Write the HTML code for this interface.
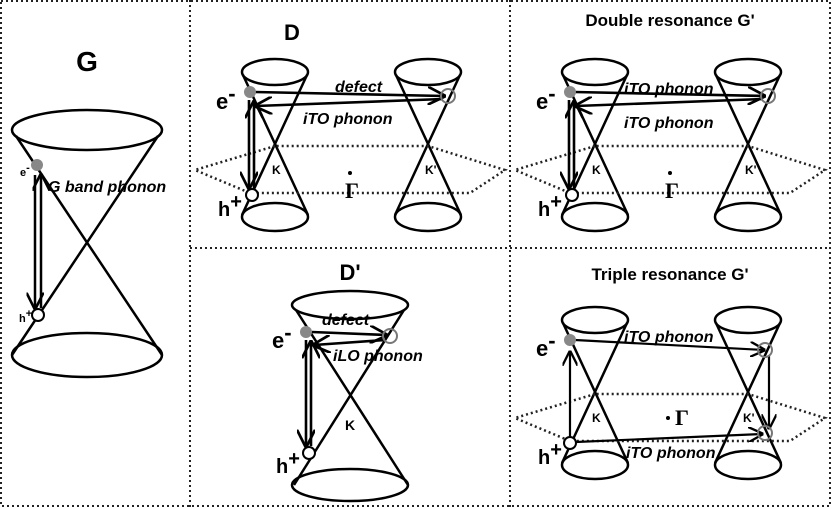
<!DOCTYPE html>
<html><head><style>body{margin:0;background:#fff}svg{display:block}</style></head><body>
<svg width="831" height="507" viewBox="0 0 831 507" xmlns="http://www.w3.org/2000/svg" font-family="Liberation Sans, sans-serif" font-weight="bold">
<defs>
<marker id="a" viewBox="0 0 10 10" refX="9" refY="5" markerWidth="7" markerHeight="7" orient="auto-start-reverse"><path d="M0,0 L10,5 L0,10" fill="none" stroke="#000" stroke-width="1.5"/></marker>
</defs>
<g fill="none" stroke="#222" stroke-width="2" stroke-dasharray="2,3">
<rect x="1" y="1" width="829" height="505"/>
<line x1="190" y1="0" x2="190" y2="507"/>
<line x1="510" y1="0" x2="510" y2="507"/>
<line x1="190" y1="248" x2="831" y2="248"/>
</g>
<!-- G panel -->
<text x="87" y="71" font-size="28" text-anchor="middle">G</text>
<g fill="none" stroke="#000" stroke-width="2.5">
<ellipse cx="87" cy="130" rx="75" ry="20"/>
<ellipse cx="87" cy="355" rx="75" ry="22"/>
<line x1="16" y1="136" x2="162" y2="355"/>
<line x1="158" y1="136" x2="12" y2="355"/>
<line x1="35" y1="175" x2="35" y2="308" marker-end="url(#a)"/>
<line x1="41" y1="308" x2="41" y2="175" marker-end="url(#a)"/>
</g>
<circle cx="37" cy="165" r="6" fill="#888"/>
<circle cx="38" cy="315" r="6" fill="#fff" stroke="#000" stroke-width="2"/>
<text x="20" y="176" font-size="11">e<tspan dy="-5">-</tspan></text>
<text x="19" y="322" font-size="11">h<tspan dy="-5">+</tspan></text>
<text x="48" y="192" font-size="16" font-style="italic">G  band phonon</text>
<!-- D panel and Double resonance -->
<g id="dp">
<g fill="none" stroke="#000" stroke-width="2.5">
<ellipse cx="275" cy="72" rx="33" ry="13"/>
<ellipse cx="275" cy="217" rx="33" ry="14"/>
<line x1="243" y1="75" x2="308" y2="215"/>
<line x1="307" y1="75" x2="242" y2="215"/>
<ellipse cx="428" cy="72" rx="33" ry="13"/>
<ellipse cx="428" cy="217" rx="33" ry="14"/>
<line x1="396" y1="75" x2="461" y2="215"/>
<line x1="460" y1="75" x2="395" y2="215"/>
</g>
<polyline points="275,146 195,170 250,193 470,193 505,170 428,146 275,146" fill="none" stroke="#222" stroke-width="2.5" stroke-dasharray="2,3"/>
<g fill="none" stroke="#000" stroke-width="2.6">
<line x1="249" y1="100" x2="249" y2="188" marker-end="url(#a)"/>
<line x1="254" y1="188" x2="254" y2="102" marker-end="url(#a)"/>
<line x1="255" y1="92" x2="444" y2="96" marker-end="url(#a)"/>
<line x1="443" y1="99" x2="256" y2="106" marker-end="url(#a)"/>
</g>
<circle cx="250" cy="92" r="6" fill="#888"/>
<circle cx="448" cy="96" r="7" fill="none" stroke="#777" stroke-width="2"/>
<circle cx="252" cy="195" r="6" fill="#fff" stroke="#000" stroke-width="2"/>
<text x="216" y="109" font-size="22">e<tspan dy="-8" font-size="22">-</tspan></text>
<text x="218" y="216" font-size="20">h<tspan dy="-8">+</tspan></text>
<text x="272" y="174" font-size="12">K</text>
<text x="425" y="174" font-size="12">K'</text>
<text x="345" y="198" font-size="22" font-family="Liberation Serif, serif">Γ</text>
<circle cx="350" cy="173" r="2" fill="#000"/>
</g>
<text x="292" y="40" font-size="22" text-anchor="middle">D</text>
<text x="335" y="92" font-size="16" font-style="italic">defect</text>
<text x="303" y="124" font-size="16" font-style="italic">iTO phonon</text>
<use href="#dp" x="320"/>
<text x="670" y="26" font-size="17" text-anchor="middle">Double resonance G'</text>
<text x="624" y="94" font-size="16" font-style="italic">iTO phonon</text>
<text x="624" y="128" font-size="16" font-style="italic">iTO phonon</text>
<!-- D' -->
<text x="350" y="280" font-size="22" text-anchor="middle">D'</text>
<g fill="none" stroke="#000" stroke-width="2.5">
<ellipse cx="350" cy="305" rx="58" ry="14"/>
<ellipse cx="350" cy="485" rx="58" ry="16"/>
<line x1="296" y1="310" x2="408" y2="485"/>
<line x1="404" y1="310" x2="294" y2="485"/>
</g>
<g fill="none" stroke="#000" stroke-width="2.6">
<line x1="306" y1="340" x2="306" y2="446" marker-end="url(#a)"/>
<line x1="311" y1="446" x2="311" y2="342" marker-end="url(#a)"/>
<line x1="312" y1="332" x2="386" y2="335" marker-end="url(#a)"/>
<line x1="385" y1="340" x2="314" y2="345" marker-end="url(#a)"/>
</g>
<circle cx="306" cy="332" r="6" fill="#888"/>
<circle cx="390" cy="336" r="7" fill="none" stroke="#777" stroke-width="2"/>
<circle cx="309" cy="453" r="6" fill="#fff" stroke="#000" stroke-width="2"/>
<text x="272" y="348" font-size="22">e<tspan dy="-8">-</tspan></text>
<text x="276" y="473" font-size="20">h<tspan dy="-8">+</tspan></text>
<text x="322" y="325" font-size="16" font-style="italic">defect</text>
<text x="333" y="361" font-size="16" font-style="italic">iLO phonon</text>
<text x="345" y="430" font-size="14">K</text>
<!-- Triple -->
<text x="670" y="280" font-size="17" text-anchor="middle">Triple resonance G'</text>
<g fill="none" stroke="#000" stroke-width="2.5">
<ellipse cx="595" cy="320" rx="33" ry="13"/>
<ellipse cx="595" cy="465" rx="33" ry="14"/>
<line x1="563" y1="323" x2="628" y2="463"/>
<line x1="627" y1="323" x2="562" y2="463"/>
<ellipse cx="748" cy="320" rx="33" ry="13"/>
<ellipse cx="748" cy="465" rx="33" ry="14"/>
<line x1="716" y1="323" x2="781" y2="463"/>
<line x1="780" y1="323" x2="715" y2="463"/>
</g>
<polyline points="595,394 515,418 570,441 790,441 825,418 748,394 595,394" fill="none" stroke="#222" stroke-width="2.5" stroke-dasharray="2,3"/>
<g fill="none" stroke="#000" stroke-width="2.2">
<line x1="570" y1="440" x2="570" y2="352" marker-end="url(#a)"/>
<line x1="575" y1="340" x2="764" y2="350" marker-end="url(#a)"/>
<line x1="769" y1="355" x2="769" y2="428" marker-end="url(#a)"/>
<line x1="576" y1="442" x2="762" y2="434" marker-end="url(#a)"/>
</g>
<circle cx="570" cy="340" r="6" fill="#888"/>
<circle cx="765" cy="350" r="7" fill="none" stroke="#777" stroke-width="2"/>
<circle cx="765" cy="433" r="7" fill="none" stroke="#777" stroke-width="2"/>
<circle cx="570" cy="443" r="6" fill="#fff" stroke="#000" stroke-width="2"/>
<text x="536" y="356" font-size="22">e<tspan dy="-8">-</tspan></text>
<text x="538" y="464" font-size="20">h<tspan dy="-8">+</tspan></text>
<text x="592" y="422" font-size="12">K</text>
<text x="743" y="422" font-size="12">K'</text>
<circle cx="668" cy="418" r="2" fill="#000"/>
<text x="675" y="425" font-size="22" font-family="Liberation Serif, serif">Γ</text>
<text x="624" y="342" font-size="16" font-style="italic">iTO phonon</text>
<text x="626" y="458" font-size="16" font-style="italic">iTO phonon</text>
</svg>
</body></html>
